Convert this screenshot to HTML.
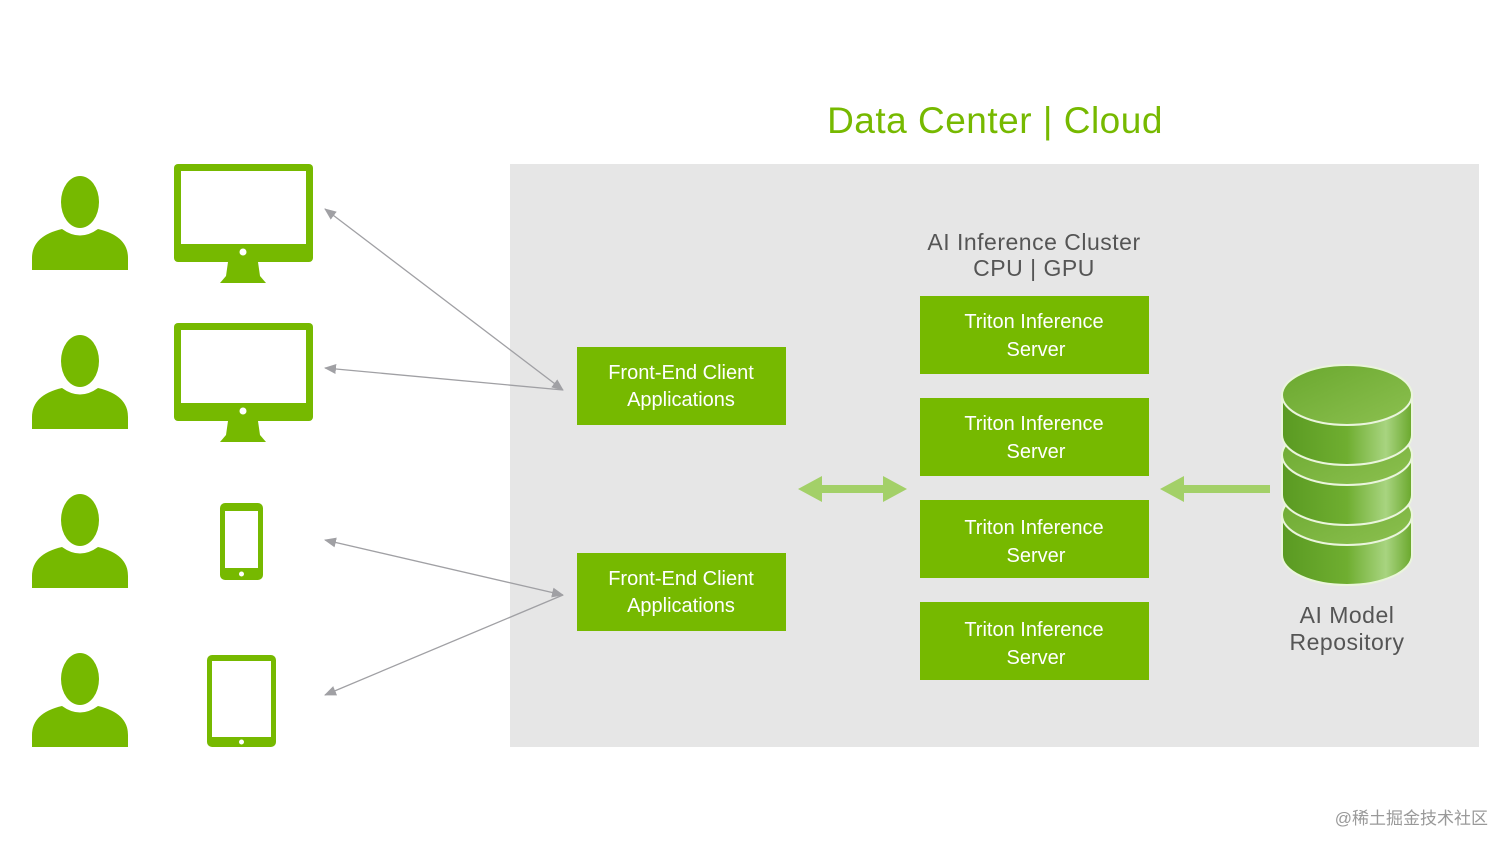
<!DOCTYPE html>
<html><head><meta charset="utf-8"><style>
html,body{margin:0;padding:0;background:#fff;}
svg{display:block;font-family:"Liberation Sans","Noto Sans CJK SC",sans-serif;}
</style></head><body>
<svg width="1512" height="851" viewBox="0 0 1512 851" xmlns="http://www.w3.org/2000/svg">
<defs>
<marker id="ga" markerWidth="12" markerHeight="10" refX="11" refY="5" orient="auto-start-reverse" markerUnits="userSpaceOnUse"><path d="M0,0 L12,5 L0,10 Z" fill="#a0a0a4"/></marker>
<linearGradient id="cyl" x1="0" x2="1" y1="0" y2="0"><stop offset="0" stop-color="#5a9a22"/><stop offset="0.5" stop-color="#6fae30"/><stop offset="0.8" stop-color="#a8d480"/><stop offset="1" stop-color="#6aa82c"/></linearGradient>
<linearGradient id="top" x1="0" x2="1" y1="0" y2="1"><stop offset="0" stop-color="#6aa82e"/><stop offset="1" stop-color="#8cc050"/></linearGradient>
<g id="person"><ellipse cx="80" cy="202" rx="19" ry="26" fill="#76b900"/><path d="M32,270 L32,258 Q32,236 62,229 Q80,242 98,229 Q128,236 128,258 L128,270 Z" fill="#76b900"/></g>
<g id="mon"><rect x="174" y="164" width="139" height="98" rx="4" fill="#76b900"/><rect x="181" y="171" width="125" height="73" fill="#fff"/><circle cx="243" cy="252" r="3.5" fill="#fff"/><path d="M228,262 L258,262 L260,276 L266,283 L220,283 L226,276 Z" fill="#76b900"/></g>
</defs>
<rect x="510" y="164" width="969" height="583" fill="#e6e6e6"/>
<text x="995" y="133" text-anchor="middle" font-size="37" fill="#76b900" letter-spacing="0.5">Data Center | Cloud</text>
<use href="#person"/><use href="#person" y="159"/><use href="#person" y="318"/><use href="#person" y="477"/>
<use href="#mon"/><use href="#mon" y="159"/>
<rect x="220" y="503" width="43" height="77" rx="5" fill="#76b900"/><rect x="225" y="511" width="33" height="57" fill="#fff"/><circle cx="241.5" cy="574" r="2.5" fill="#fff"/>
<rect x="207" y="655" width="69" height="92" rx="5" fill="#76b900"/><rect x="212" y="661" width="59" height="76" fill="#fff"/><circle cx="241.5" cy="742" r="2.5" fill="#fff"/>
<g stroke="#a0a0a4" stroke-width="1.3" fill="none">
<line x1="563" y1="390" x2="325" y2="209" marker-start="url(#ga)" marker-end="url(#ga)"/>
<line x1="563" y1="390" x2="325" y2="368" marker-end="url(#ga)"/>
<line x1="563" y1="595" x2="325" y2="540" marker-start="url(#ga)" marker-end="url(#ga)"/>
<line x1="563" y1="595" x2="325" y2="695" marker-end="url(#ga)"/>
</g>
<g fill="#76b900">
<rect x="577" y="347" width="209" height="78"/><rect x="577" y="553" width="209" height="78"/>
<rect x="920" y="296" width="229" height="78"/><rect x="920" y="398" width="229" height="78"/><rect x="920" y="500" width="229" height="78"/><rect x="920" y="602" width="229" height="78"/>
</g>
<g fill="#fff" font-size="20" text-anchor="middle">
<text x="681" y="379">Front-End Client</text><text x="681" y="406">Applications</text>
<text x="681" y="585">Front-End Client</text><text x="681" y="612">Applications</text>
<text x="1034" y="328">Triton Inference</text><text x="1036" y="356">Server</text>
<text x="1034" y="430">Triton Inference</text><text x="1036" y="458">Server</text>
<text x="1034" y="534">Triton Inference</text><text x="1036" y="562">Server</text>
<text x="1034" y="636">Triton Inference</text><text x="1036" y="664">Server</text>
</g>
<g fill="#555" font-size="23" text-anchor="middle">
<text x="1034" y="250" letter-spacing="0.5">AI Inference Cluster</text><text x="1034" y="276" letter-spacing="0.5">CPU | GPU</text>
<text x="1347" y="623" letter-spacing="0.5">AI Model</text><text x="1347" y="650" letter-spacing="0.5">Repository</text>
</g>
<path d="M798,489 L822,476 L822,485 L883,485 L883,476 L907,489 L883,502 L883,493 L822,493 L822,502 Z" fill="#a3d068"/>
<path d="M1160,489 L1184,476 L1184,485 L1270,485 L1270,493 L1184,493 L1184,502 Z" fill="#a3d068"/>
<g stroke="#eaf5dc" stroke-width="2">
<path d="M1282,515 L1282,555 A65,30 0 0 0 1412,555 L1412,515 Z" fill="url(#cyl)"/>
<ellipse cx="1347" cy="515" rx="65" ry="30" fill="url(#top)"/>
<path d="M1282,455 L1282,495 A65,30 0 0 0 1412,495 L1412,455 Z" fill="url(#cyl)"/>
<ellipse cx="1347" cy="455" rx="65" ry="30" fill="url(#top)"/>
<path d="M1282,395 L1282,435 A65,30 0 0 0 1412,435 L1412,395 Z" fill="url(#cyl)"/>
<ellipse cx="1347" cy="395" rx="65" ry="30" fill="url(#top)"/>
</g>
<text x="1488" y="824" text-anchor="end" font-size="17" fill="#999">@稀土掘金技术社区</text>
</svg>
</body></html>
